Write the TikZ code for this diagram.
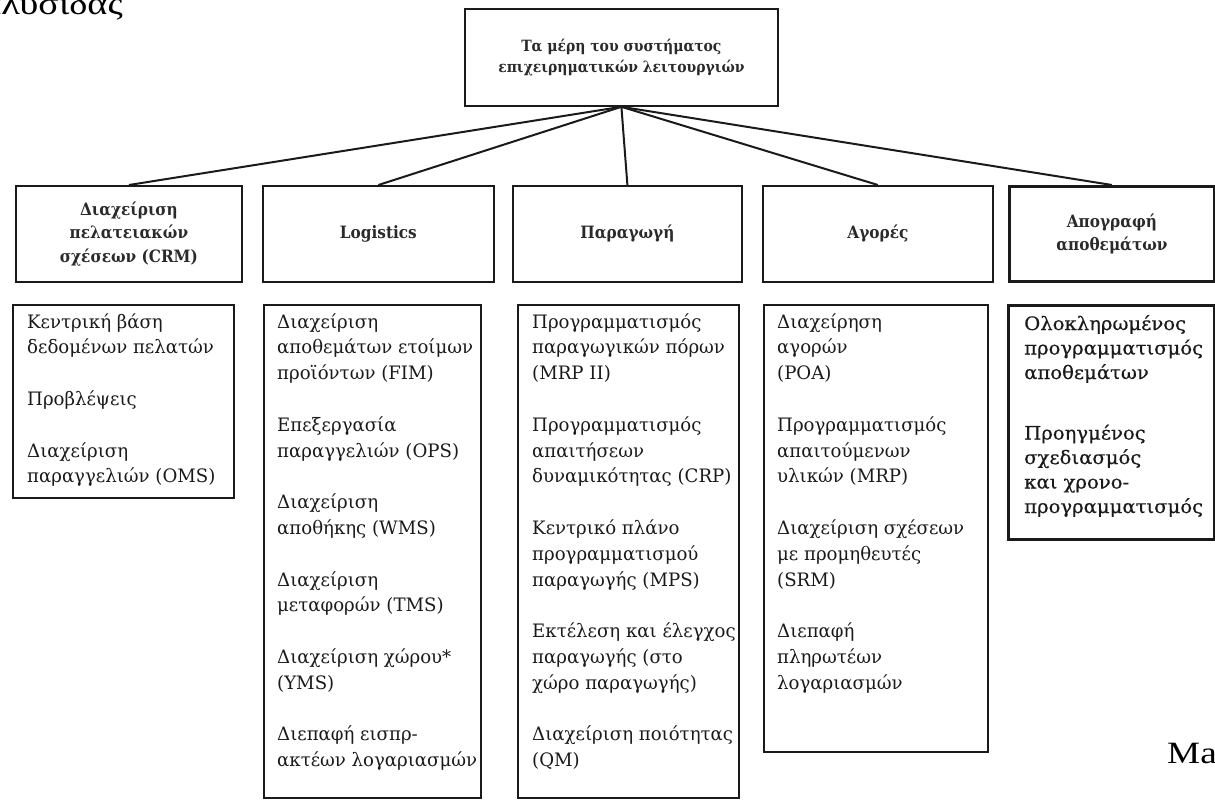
\documentclass[tikz,border=0pt]{standalone}
\usepackage{fontspec}
\setmainfont{DejaVu Serif}
\newfontfamily\listfont{DejaVu Serif}[FakeStretch=0.98]
\newfontfamily\apofont{DejaVu Serif}[FakeStretch=1.06,FakeBold=0.5]
\newfontfamily\headfont{DejaVu Serif}[FakeStretch=0.9]
\newfontfamily\outfont{Liberation Serif}[FakeStretch=1.2]
\definecolor{ink}{HTML}{1A1A1A}
\definecolor{headink}{HTML}{2A2A2A}
\begin{document}
\begin{tikzpicture}[x=1pt,y=-1pt,
  box/.style={draw=ink, line width=1.8pt, anchor=north west, inner sep=0pt},
  thickbox/.style={box, line width=2.8pt},
  headtext/.style={font=\headfont\bfseries\fontsize{17}{23.5}\selectfont, text=headink, align=center},
  toptext/.style={font=\headfont\bfseries\fontsize{15.5}{20.5}\selectfont, text=headink, align=center},
  listtext/.style={font=\listfont\fontsize{18.5}{25.8}\selectfont, text=ink, align=left, anchor=north west, inner sep=0pt},
  apotext/.style={font=\apofont\fontsize{18.5}{24.5}\selectfont, text=ink, align=left, anchor=north west, inner sep=0pt},
  fan/.style={draw=ink, line width=2pt}]
\useasboundingbox (0,0) rectangle (1215,800);

% stray texts cut by the page edge
\node[font=\outfont\fontsize{32}{32}\selectfont, anchor=base east, inner sep=0pt] (cut1) at (123,15) {αλυσίδας};
\node[font=\outfont\fontsize{31}{31}\selectfont, anchor=base west, inner sep=0pt] (cut2) at (1167,763) {Ma};

% top box
\node[box, minimum width=313pt, minimum height=97pt, toptext] (top) at (464,8)
  {Τα μέρη του συστήματος\\επιχειρηματικών λειτουργιών};

% header boxes
\node[box, minimum width=226pt, minimum height=96pt, headtext] (hCRM) at (15,185)
  {Διαχείριση\\πελατειακών\\σχέσεων (CRM)};
\node[box, minimum width=231pt, minimum height=96pt, headtext] (hLog) at (262,185) {Logistics};
\node[box, minimum width=229pt, minimum height=96pt, headtext] (hPar) at (512,185) {Παραγωγή};
\node[box, minimum width=230pt, minimum height=96pt, headtext] (hAgo) at (762,185) {Αγορές};
\node[thickbox, minimum width=205pt, minimum height=95pt, headtext] (hApo) at (1008,185)
  {Απογραφή\\αποθεμάτων};

% connectors
\draw[fan] (top.south) -- (hCRM.north);
\draw[fan] (top.south) -- (hLog.north);
\draw[fan] (top.south) -- (hPar.north);
\draw[fan] (top.south) -- (hAgo.north);
\draw[fan] (top.south) -- (hApo.north);

% list boxes
\node[box, minimum width=221pt, minimum height=193pt] (lCRM) at (12,304) {};
\node[box, minimum width=217pt, minimum height=493pt] (lLog) at (263,304) {};
\node[box, minimum width=221pt, minimum height=493pt] (lPar) at (517,304) {};
\node[box, minimum width=224pt, minimum height=447pt] (lAgo) at (763,304) {};
\node[thickbox, minimum width=206pt, minimum height=234pt] (lApo) at (1007,304) {};

% list texts
\node[listtext] (tCRM) at (27,313)
  {Κεντρική βάση\\δεδομένων πελατών\\[25.8pt]Προβλέψεις\\[25.8pt]Διαχείριση\\παραγγελιών (OMS)};
\node[listtext] (tLog) at (277,313)
  {Διαχείριση\\αποθεμάτων ετοίμων\\προϊόντων (FIM)\\[25.8pt]Επεξεργασία\\παραγγελιών (OPS)\\[25.8pt]Διαχείριση\\αποθήκης (WMS)\\[25.8pt]Διαχείριση\\μεταφορών (TMS)\\[25.8pt]Διαχείριση χώρου*\\(YMS)\\[25.8pt]Διεπαφή εισπρ-\\ακτέων λογαριασμών};
\node[listtext] (tPar) at (532,313)
  {Προγραμματισμός\\παραγωγικών πόρων\\(MRP II)\\[25.8pt]Προγραμματισμός\\απαιτήσεων\\δυναμικότητας (CRP)\\[25.8pt]Κεντρικό πλάνο\\προγραμματισμού\\παραγωγής (MPS)\\[25.8pt]Εκτέλεση και έλεγχος\\παραγωγής (στο\\χώρο παραγωγής)\\[25.8pt]Διαχείριση ποιότητας\\(QM)};
\node[listtext] (tAgo) at (777,313)
  {Διαχείρηση\\αγορών\\(POA)\\[25.8pt]Προγραμματισμός\\απαιτούμενων\\υλικών (MRP)\\[25.8pt]Διαχείριση σχέσεων\\με προμηθευτές\\(SRM)\\[25.8pt]Διεπαφή\\πληρωτέων\\λογαριασμών};
\node[apotext] (tApo) at (1024,315)
  {Ολοκληρωμένος\\προγραμματισμός\\αποθεμάτων\\[36pt]Προηγμένος\\σχεδιασμός\\και χρονο-\\προγραμματισμός};
\end{tikzpicture}
\end{document}
